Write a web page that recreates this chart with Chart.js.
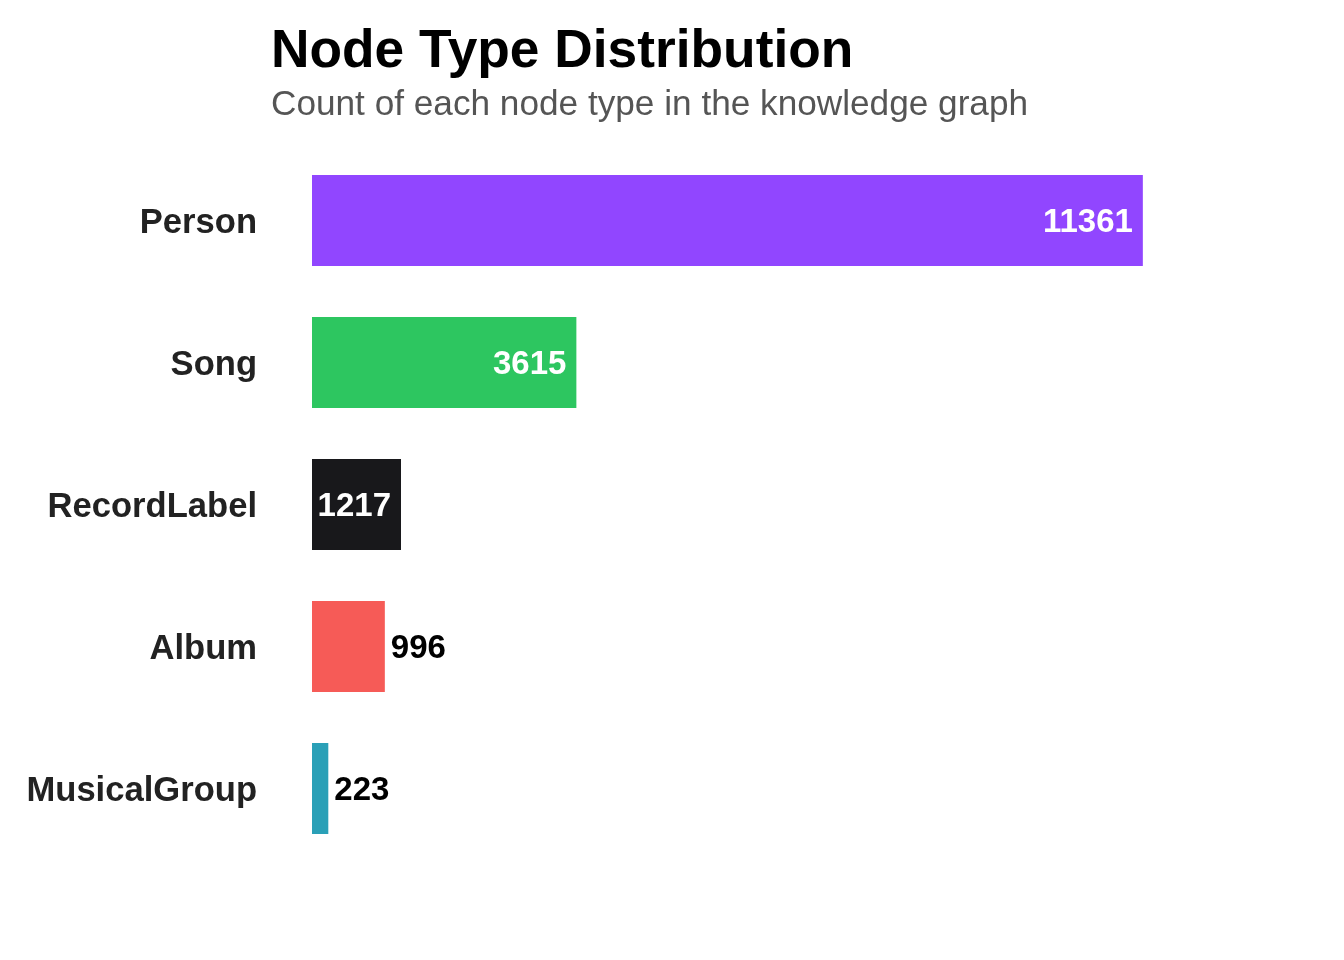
<!DOCTYPE html>
<html>
<head>
<meta charset="utf-8">
<script src="https://cdn.jsdelivr.net/npm/chart.js@4/dist/chart.umd.min.js"></script>
<style>
    html, body { margin: 0; padding: 0; background: #fff; }
    #wrap { position: relative; width: 1344px; height: 960px; font-family: "Liberation Sans", Arial, sans-serif; }
    #title { position: absolute; left: 271px; top: 22px; font-size: 53.3px; line-height: 53px; font-weight: bold; color: #000; white-space: nowrap; }
    #subtitle { position: absolute; left: 271px; top: 85px; font-size: 35.2px; line-height: 35px; color: #555; white-space: nowrap; }
    #chart { position: absolute; left: 0; top: 0; }
</style>
</head>
<body>
<div id="wrap">
    <canvas id="chart" width="1344" height="960"></canvas>
    <div id="title">Node Type Distribution</div>
    <div id="subtitle">Count of each node type in the knowledge graph</div>
</div>
<script>
// Data
const nodeTypes = ['Person', 'Song', 'RecordLabel', 'Album', 'MusicalGroup'];
const nodeCounts = [11361, 3615, 1217, 996, 223];
const barColors = ['#9146FF', '#2DC660', '#18181B', '#F65B57', '#2AA0B7'];

const maxCount = Math.max(...nodeCounts);

// Value labels: inside (white) for big bars, outside (black) for small ones
const valueLabels = {
    id: 'valueLabels',
    afterDatasetsDraw(chart) {
        const ctx = chart.ctx;
        const meta = chart.getDatasetMeta(0);
        ctx.save();
        ctx.font = 'bold 33px "Liberation Sans", Arial, sans-serif';
        ctx.textBaseline = 'middle';
        meta.data.forEach((bar, i) => {
            const value = nodeCounts[i];
            const text = String(value);
            if (value >= maxCount * 0.1) {
                ctx.fillStyle = '#fff';
                ctx.textAlign = 'right';
                ctx.fillText(text, bar.x - 10, bar.y + 2);
            } else {
                ctx.fillStyle = '#000';
                ctx.textAlign = 'left';
                ctx.fillText(text, bar.x + 6, bar.y + 2);
            }
        });
        ctx.restore();
    }
};

const ctx = document.getElementById('chart').getContext('2d');
new Chart(ctx, {
    type: 'bar',
    data: {
        labels: nodeTypes,
        datasets: [{
            data: nodeCounts,
            backgroundColor: barColors,
            borderWidth: 0,
            categoryPercentage: 1,
            barPercentage: 0.64
        }]
    },
    options: {
        indexAxis: 'y',
        responsive: false,
        animation: false,
        layout: { padding: { top: 149.5, bottom: 100.5, left: 0, right: 35 } },
        plugins: {
            legend: { display: false },
            tooltip: { enabled: false }
        },
        scales: {
            x: {
                display: false,
                min: 0,
                max: 13633
            },
            y: {
                grid: { display: false, drawTicks: false },
                border: { display: false },
                ticks: {
                    padding: 55,
                    labelOffset: 3,
                    color: '#222',
                    font: { family: '"Liberation Sans", Arial, sans-serif', size: 34.6, weight: 'bold' }
                },
                afterFit(scale) { scale.width = 312; }
            }
        }
    },
    plugins: [valueLabels]
});
</script>
</body>
</html>
